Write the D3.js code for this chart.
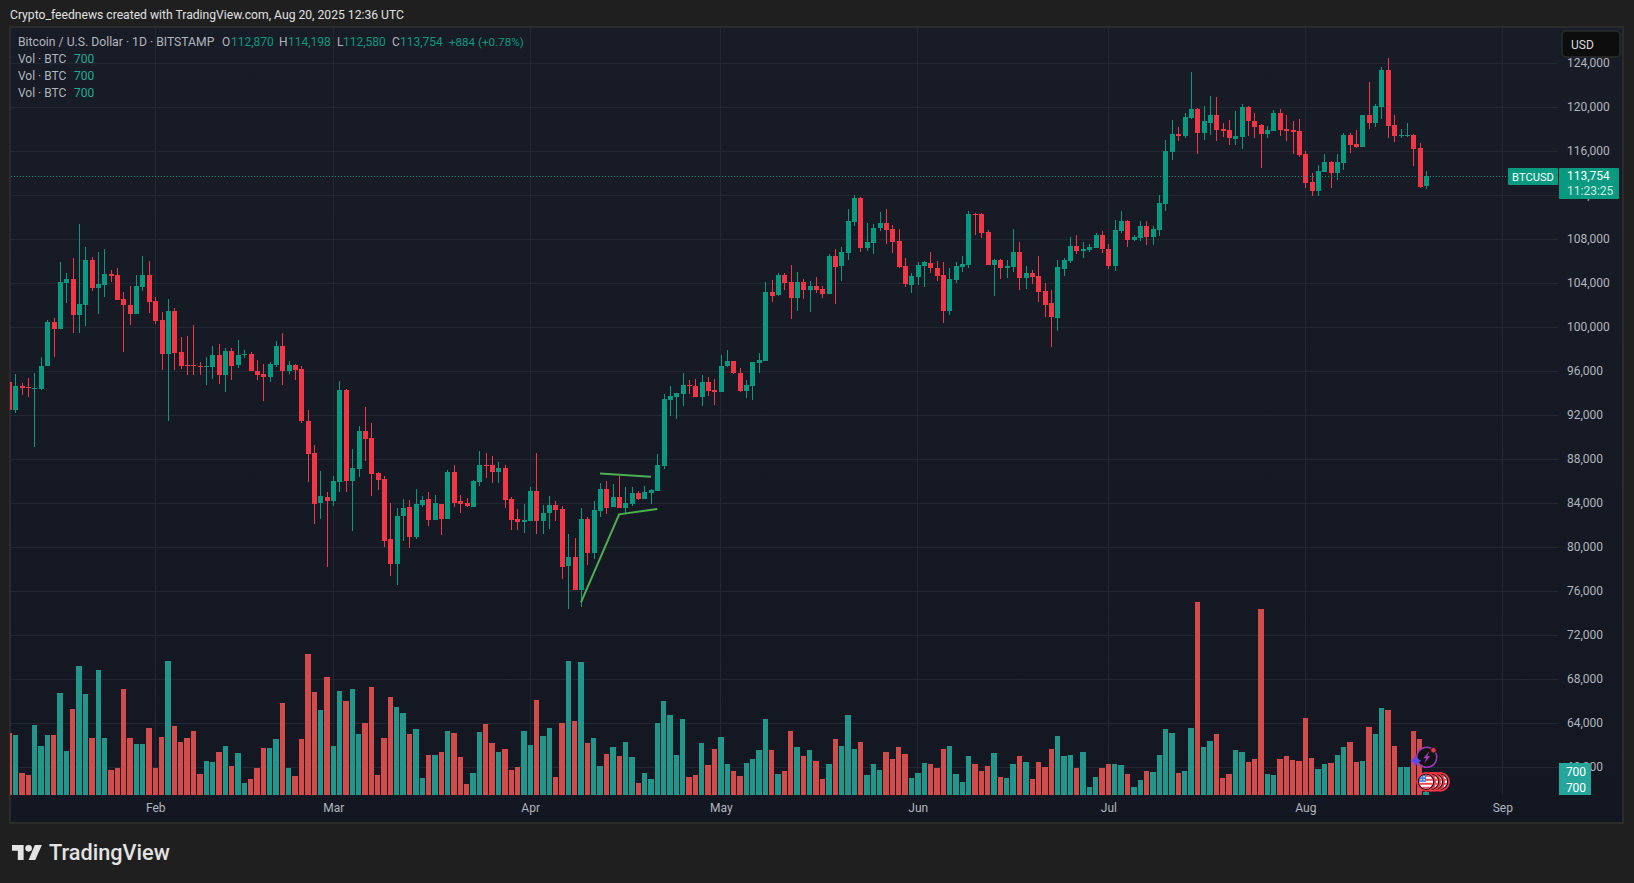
<!DOCTYPE html>
<html>

<head>
    <meta charset="utf-8">
    <title>BTCUSD 1D</title>
    <script src="https://d3js.org/d3.v7.min.js"></script>
    <style>
        html,
        body {
            margin: 0;
            background: #1f1f1f;
            overflow: hidden;
        }

        svg {
            display: block;
        }

        text {
            font-family: Roboto, sans-serif;
            font-size: 12px;
        }
    </style>
</head>

<body>
    <div id="chart"></div>
    <script>
        const startDate = new Date(Date.UTC(2025, 0, 9))

        const opens = [
            95030, 92490, 94670, 94580, 94400, 94400, 96490, 100480, 99850, 104030,
            104390, 101120, 102030, 106120, 103580, 103850, 104850, 104760, 102580, 102030,
            101210, 103670, 104760, 102390, 100670, 97580, 101480, 97760, 96580, 96580,
            96490, 96400, 96400, 97490, 95670, 97850, 96580, 97490, 97580, 96030,
            95760, 95490, 96580, 98300, 96030, 96580, 96210, 91480, 88580, 84030,
            84580, 84210, 85940, 94300, 86030, 87120, 90580, 89940, 86760, 86210,
            80760, 78490, 82850, 83670, 80940, 83850, 84390, 82490, 83940, 82580,
            86850, 84210, 84030, 83670, 85940, 87490, 87490, 86850, 87210, 84390,
            82580, 82300, 82400, 85120, 82400, 83120, 83850, 83490, 78300, 79120,
            76120, 82580, 79490, 83300, 85300, 83670, 84580, 83580, 83940, 84940,
            84390, 84940, 85120, 87400, 93400, 93670, 93940, 94760, 94670, 93670,
            95030, 94300, 94120, 96490, 96940, 95850, 94210, 94670, 96760, 96940,
            103210, 102940, 104760, 104120, 102670, 104120, 103400, 103760, 103490, 103030,
            106490, 105580, 106760, 109580, 111760, 107210, 107670, 109030, 109490, 108940,
            107850, 105580, 103850, 104580, 105580, 105850, 105390, 104760, 101490, 104300,
            105490, 105670, 110300, 110300, 108670, 105670, 106120, 105390, 105490, 106850,
            104490, 104940, 104670, 103300, 102210, 100850, 105300, 106030, 107390, 106940,
            107030, 107210, 108400, 107120, 105580, 108760, 109670, 107940, 108120, 109210,
            108210, 108850, 111210, 115940, 117580, 117390, 119030, 119850, 117670, 118580,
            119300, 118030, 117940, 117120, 117300, 120030, 118760, 118400, 117580, 117850,
            119490, 118030, 117940, 117850, 115760, 113210, 112400, 114120, 115030, 114030,
            114940, 117490, 116670, 116400, 119300, 118580, 120030, 123390, 118400, 117390,
            117390, 117490, 116300, 112870
        ]
        const highs = [
            95100, 95760, 94940, 95400, 95850, 97300, 100670, 100850, 105940, 104940,
            106300, 109390, 107300, 106390, 106850, 107120, 105210, 105390, 103210, 103760,
            104760, 106490, 106030, 102730, 101390, 102580, 101760, 99120, 99210, 100210,
            96850, 97300, 98300, 98490, 98120, 98120, 98850, 97940, 97760, 97030,
            96670, 96850, 98760, 99490, 96940, 96670, 96490, 92490, 89300, 86940,
            85030, 86490, 95120, 94400, 88940, 91030, 92760, 91300, 86850, 86490,
            84030, 83580, 84390, 84300, 85300, 84670, 85030, 84760, 83940, 87030,
            87490, 84760, 84490, 86120, 88760, 88580, 88300, 87760, 87490, 84580,
            83490, 83940, 85490, 88580, 83850, 84670, 84210, 83760, 81210, 80850,
            83580, 82760, 84210, 85850, 86030, 85760, 86490, 85490, 85490, 85120,
            85580, 85300, 88490, 93940, 94670, 94030, 95850, 95210, 95300, 95670,
            95490, 95300, 97490, 97940, 96940, 96300, 95210, 96850, 97670, 104120,
            104300, 104940, 104940, 105670, 105030, 104390, 104210, 104580, 103760, 106670,
            107120, 107300, 110760, 112030, 111850, 109490, 109390, 110490, 110760, 109300,
            108940, 106300, 104940, 105940, 106030, 106850, 106030, 105940, 105390, 105940,
            106490, 110580, 110390, 110390, 108850, 106210, 106210, 106120, 108940, 107760,
            105580, 105210, 106490, 104030, 103390, 106120, 106300, 108210, 108390, 107760,
            107580, 108580, 108760, 107580, 109760, 110580, 109760, 108400, 109670, 109670,
            109210, 112030, 117030, 118850, 118210, 119490, 123210, 119940, 120120, 121030,
            120940, 118580, 118850, 119670, 120300, 120120, 119490, 118490, 118300, 119760,
            119850, 119300, 118760, 118940, 116030, 114030, 114760, 115760, 115120, 115760,
            117670, 117670, 117940, 119300, 122300, 120300, 123670, 124490, 119300, 118030,
            118580, 117580, 116760, 114198
        ]
        const lows = [
            92300, 92210, 93850, 93670, 89120, 94300, 96490, 97300, 99850, 102210,
            99490, 99490, 100120, 103300, 101210, 102760, 104120, 102490, 97760, 100210,
            101210, 103300, 101300, 100300, 96120, 91480, 96120, 96210, 95670, 95670,
            95670, 94760, 95300, 94850, 94120, 95210, 96300, 97210, 96030, 95210,
            93300, 95030, 96400, 94760, 95760, 95210, 91300, 85940, 82120, 82580,
            78210, 83760, 85030, 85030, 81490, 86400, 87850, 84670, 85210, 80030,
            77400, 76580, 80580, 79940, 80760, 83670, 81940, 82490, 81120, 82580,
            83670, 83120, 83670, 83670, 85580, 86300, 85850, 85850, 83580, 81580,
            81580, 81300, 82400, 81210, 81210, 81670, 82400, 77120, 74400, 76120,
            74580, 78400, 78940, 82760, 83030, 83670, 83580, 83120, 83760, 84300,
            84390, 83940, 85120, 87120, 91940, 91670, 92850, 93940, 93670, 92850,
            93760, 92940, 94120, 96400, 95760, 94120, 93580, 93390, 95850, 96940,
            102300, 102850, 103400, 100760, 101490, 102580, 101400, 103120, 102670, 103030,
            102120, 104210, 106120, 109210, 106850, 106940, 106670, 108760, 107580, 106760,
            105390, 103670, 103120, 103850, 103670, 104940, 104210, 100400, 101120, 104030,
            105030, 105390, 108390, 108120, 105670, 102850, 104390, 104490, 105030, 103400,
            103490, 103940, 102300, 100940, 98210, 99670, 104670, 105850, 106670, 106300,
            106850, 107210, 106760, 105300, 105120, 108580, 107300, 107850, 107850, 107490,
            107490, 108300, 110580, 115210, 116940, 117210, 118940, 115760, 117030, 117490,
            116940, 117300, 116580, 116580, 116210, 117390, 117210, 114490, 117210, 117850,
            117390, 116940, 115760, 115490, 112670, 111940, 111940, 114120, 112670, 113400,
            114300, 115850, 116300, 116400, 118030, 118210, 118940, 117210, 116850, 117210,
            117300, 114670, 112670, 112580
        ]
        const closes = [
            92490, 94670, 94490, 94490, 94490, 96490, 100480, 99850, 104120, 104390,
            101120, 102120, 106120, 103580, 103940, 104850, 104670, 102490, 102030, 101210,
            103760, 104760, 102300, 100580, 97580, 101480, 97670, 96490, 96490, 96490,
            96400, 96490, 97490, 95670, 97850, 96490, 97490, 97580, 96030, 95670,
            95490, 96670, 98300, 96030, 96580, 96120, 91480, 88490, 83940, 84670,
            84210, 86030, 94300, 86030, 87210, 90580, 89850, 86670, 86120, 80580,
            78490, 82850, 83580, 80940, 83940, 84300, 82490, 84030, 82580, 86850,
            84030, 83940, 83760, 86030, 87490, 87400, 86850, 87210, 84300, 82490,
            82300, 82490, 85120, 82400, 83120, 83850, 83400, 78210, 79120, 76120,
            82580, 79490, 83400, 85300, 83580, 84580, 83580, 84030, 84940, 84390,
            85030, 85210, 87490, 93490, 93760, 94030, 94760, 94670, 93670, 95030,
            94210, 94120, 96490, 96940, 95850, 94210, 94760, 96850, 97030, 103210,
            102850, 104760, 104030, 102670, 104120, 103400, 103760, 103400, 103030, 106490,
            105490, 106850, 109670, 111760, 107210, 107760, 109030, 109490, 108850, 107760,
            105490, 103940, 104670, 105670, 105940, 105390, 104670, 101490, 104390, 105580,
            105760, 110300, 110210, 108580, 105670, 106120, 105390, 105580, 106850, 104490,
            104940, 104580, 103210, 102030, 100940, 105490, 106120, 107390, 106940, 107120,
            107300, 108390, 107120, 105580, 108850, 109670, 107940, 108210, 109210, 108210,
            108940, 111300, 116030, 117580, 117390, 119120, 119850, 117670, 118760, 119300,
            117940, 117850, 117210, 117390, 120030, 118760, 118210, 117580, 117940, 119490,
            117940, 117850, 117760, 115670, 113120, 112400, 114210, 115030, 114030, 115030,
            117490, 116580, 116400, 119300, 118580, 120120, 123390, 118300, 117390, 117490,
            117490, 116210, 112760, 113754
        ]
        const volumes = [
            186, 180, 66, 60, 210, 147, 180, 180, 306, 132,
            258, 387, 303, 171, 375, 171, 75, 81, 318, 171,
            153, 153, 201, 81, 174, 402, 207, 159, 171, 192,
            63, 102, 99, 129, 147, 87, 126, 36, 48, 81,
            141, 141, 168, 276, 81, 57, 168, 423, 309, 255,
            354, 147, 312, 282, 318, 183, 216, 324, 60, 171,
            294, 264, 246, 183, 198, 51, 120, 120, 129, 192,
            186, 114, 33, 66, 189, 213, 156, 129, 138, 75,
            84, 192, 150, 285, 177, 201, 54, 216, 402, 222,
            399, 156, 171, 87, 123, 144, 117, 159, 114, 36,
            66, 48, 216, 282, 240, 120, 228, 54, 60, 156,
            90, 138, 174, 93, 72, 57, 96, 108, 135, 228,
            135, 63, 72, 192, 144, 117, 135, 102, 48, 93,
            168, 147, 240, 138, 159, 60, 93, 75, 129, 108,
            144, 123, 51, 66, 96, 93, 81, 138, 147, 63,
            39, 117, 93, 72, 87, 126, 54, 51, 93, 117,
            99, 48, 99, 84, 138, 177, 117, 120, 81, 129,
            24, 54, 81, 93, 93, 90, 63, 24, 45, 72,
            69, 120, 198, 186, 66, 72, 201, 578, 144, 162,
            183, 51, 63, 135, 129, 99, 108, 559, 63, 60,
            108, 117, 105, 102, 231, 111, 78, 93, 96, 120,
            144, 159, 99, 102, 204, 183, 261, 255, 147, 84,
            84, 192, 168, 9
        ]

        const priceTicks = [60000, 64000, 68000, 72000, 76000, 80000, 84000, 88000, 92000, 96000, 100000, 104000, 108000, 112000, 116000, 120000, 124000]
        const monthTicks = [1, 2, 3, 4, 5, 6, 7, 8].map(m => new Date(Date.UTC(2025, m, 1)))

        const triangleDates = ["2025-04-09", "2025-04-15", "2025-04-21"]
        const trianglePrices = [75000, 83000, 83480]
        const topLineDates = ["2025-04-12", "2025-04-20"]
        const topLinePrices = [86700, 86420]

        const lastPrice = 113754
        const legendOhlc = [["O", "112,870"], ["H", "114,198"], ["L", "112,580"], ["C", "113,754"]]
        const volumeRows = ["Vol · BTC", "Vol · BTC", "Vol · BTC"]

        const W = 1634, H = 883
        const pane = { left: 11, right: 1558, top: 28, bottom: 795, edge: 1622 }

        const green = "#089981", red = "#f23645", volGreen = "#22968a", volRed = "#d34c4c"
        const gridColor = "#232732", labelColor = "#b2b5be"

        const dates = opens.map((d, i) => d3.utcDay.offset(startDate, i))

        const x = d3.scaleUtc()
            .domain([new Date(Date.UTC(2025, 1, 1)), new Date(Date.UTC(2025, 8, 1))])
            .range([155.3, 1502.3])
        const y = d3.scaleLinear().domain([60000, 124000]).range([767.3, 63.3])
        const yVol = d3.scaleLinear().domain([0, 600]).range([pane.bottom, pane.bottom - 200])

        const candleX = i => Math.round(x(dates[i]) - 0.1)
        const volLeft = i => Math.floor(x(d3.utcDay.offset(startDate, i)) - 0.1) - 2

        const svg = d3.select("#chart").append("svg").attr("width", W).attr("height", H)
        const defs = svg.append("defs")

        const grad = defs.append("linearGradient").attr("id", "paneBg").attr("x1", 0).attr("x2", 0).attr("y1", 0).attr("y2", 1)
        grad.append("stop").attr("offset", "0%").attr("stop-color", "#181c27")
        grad.append("stop").attr("offset", "100%").attr("stop-color", "#131722")

        defs.append("clipPath").attr("id", "plotClip").append("rect")
            .attr("x", 10).attr("y", pane.top)
            .attr("width", pane.right - 10).attr("height", pane.bottom - pane.top)

        svg.append("rect")
            .attr("x", 10).attr("y", 27).attr("width", 1613).attr("height", 796)
            .attr("fill", "url(#paneBg)").attr("stroke", "#2b2b2b").attr("stroke-width", 2)

        // grid
        svg.append("g").selectAll("line").data(priceTicks).join("line")
            .attr("x1", pane.left).attr("x2", pane.right)
            .attr("y1", d => Math.floor(y(d)) + 0.5).attr("y2", d => Math.floor(y(d)) + 0.5)
            .attr("stroke", gridColor)
        svg.append("g").selectAll("line").data(monthTicks).join("line")
            .attr("x1", d => Math.floor(x(d)) + 0.5).attr("x2", d => Math.floor(x(d)) + 0.5)
            .attr("y1", pane.top).attr("y2", pane.bottom)
            .attr("stroke", gridColor)

        const plot = svg.append("g").attr("clip-path", "url(#plotClip)")

        // volume
        plot.append("g").attr("shape-rendering", "crispEdges")
            .selectAll("rect").data(volumes).join("rect")
            .attr("x", (d, i) => volLeft(i))
            .attr("width", (d, i) => volLeft(i + 1) - volLeft(i) - 1)
            .attr("y", d => yVol(d))
            .attr("height", d => yVol(0) - yVol(d))
            .attr("fill", (d, i) => closes[i] >= opens[i] ? volGreen : volRed)

        // candles
        const candles = plot.append("g").attr("shape-rendering", "crispEdges")
            .selectAll("g").data(dates).join("g")
            .attr("fill", (d, i) => closes[i] >= opens[i] ? green : red)
        candles.append("rect")
            .attr("x", (d, i) => candleX(i))
            .attr("width", 1)
            .attr("y", (d, i) => Math.round(y(highs[i])))
            .attr("height", (d, i) => Math.max(1, Math.round(y(lows[i])) - Math.round(y(highs[i]))))
        candles.append("rect")
            .attr("x", (d, i) => candleX(i) - 2)
            .attr("width", 5)
            .attr("y", (d, i) => Math.round(y(Math.max(opens[i], closes[i]))))
            .attr("height", (d, i) => Math.max(1, Math.round(y(Math.min(opens[i], closes[i]))) - Math.round(y(Math.max(opens[i], closes[i])))))

        // last price line
        svg.append("line")
            .attr("x1", pane.left).attr("x2", 1508)
            .attr("y1", Math.floor(y(lastPrice)) + 0.5).attr("y2", Math.floor(y(lastPrice)) + 0.5)
            .attr("stroke", green).attr("stroke-dasharray", "1,2")

        // hand drawn lines
        const parseDay = d3.utcParse("%Y-%m-%d")
        const drawLine = d3.line().x(d => x(parseDay(d[0]))).y(d => y(d[1]))
        svg.append("path").datum(d3.zip(topLineDates, topLinePrices)).attr("d", drawLine)
            .attr("fill", "none").attr("stroke", "#4caf50").attr("stroke-width", 2)
        svg.append("path").datum(d3.zip(triangleDates, trianglePrices)).attr("d", drawLine)
            .attr("fill", "none").attr("stroke", "#4caf50").attr("stroke-width", 2)

        // event markers on the last bar
        const lastX = x(dates[dates.length - 1])
        const flags = [14, 9, 5, 0]
        defs.append("clipPath").attr("id", "flagClip").append("circle").attr("r", 7)
        flags.forEach((off, n) => {
            const f = svg.append("g").attr("transform", `translate(${lastX + off},781.8)`)
            f.append("circle").attr("r", 9).attr("fill", "#111").attr("stroke", red).attr("stroke-width", 1.7)
            const inner = f.append("g").attr("clip-path", "url(#flagClip)")
            inner.append("rect").attr("x", -8).attr("y", -8).attr("width", 16).attr("height", 16).attr("fill", "#fff")
            inner.selectAll(".s").data([-6, -2, 2, 6]).join("rect")
                .attr("x", -8).attr("y", d => d - 1).attr("width", 16).attr("height", 2).attr("fill", "#f0475a")
            if (off === 0) {
                inner.append("rect").attr("x", -8).attr("y", -8).attr("width", 8).attr("height", 8).attr("fill", "#3f7fe0")
                inner.selectAll(".d").data([[-5, -5], [-2, -5], [-5, -2], [-2, -2]]).join("circle")
                    .attr("cx", d => d[0]).attr("cy", d => d[1]).attr("r", 0.7).attr("fill", "#fff")
            }
        })

        const bolt = svg.append("g").attr("transform", `translate(${lastX + 0.7},757.3)`)
        bolt.append("circle").attr("r", 10).attr("fill", "#131316").attr("stroke", "#9b37b8").attr("stroke-width", 1.5)
        bolt.append("path").attr("d", "M2.5,-6 L-3.5,1 L-0.5,1 L-2.5,6 L3.5,-1 L0.5,-1 Z").attr("fill", "#a53dc6")
        bolt.append("circle").attr("cx", 6.7).attr("cy", -7).attr("r", 2.8).attr("fill", red).attr("stroke", "#131316")
        bolt.append("path").attr("d", "M-11,-2 L-9,1.5 L-5.5,3.5 L-9,5.5 L-11,9 L-13,5.5 L-16.5,3.5 L-13,1.5 Z").attr("fill", "#5f48f0")

        // axes
        const yAxis = d3.axisRight(y).tickValues(priceTicks).tickSize(0).tickPadding(0).tickFormat(d3.format(","))
        const gy = svg.append("g").attr("transform", "translate(1567,-1)").call(yAxis)
        gy.select(".domain").remove()
        gy.selectAll("text").attr("fill", labelColor).style("font-size", "12px").style("font-family", null)

        const xAxis = d3.axisBottom(x).tickValues(monthTicks).tickSize(0).tickPadding(8).tickFormat(d3.utcFormat("%b"))
        const gx = svg.append("g").attr("transform", `translate(0,${pane.bottom})`).call(xAxis)
        gx.select(".domain").remove()
        gx.selectAll("text").attr("fill", labelColor).style("font-size", "12px").style("font-family", null)

        // price scale badges
        svg.append("rect").attr("x", 1559).attr("y", 763).attr("width", 32).attr("height", 32).attr("fill", "#26a69a")
        svg.selectAll(".volBadge").data([775.5, 792]).join("text")
            .attr("x", 1576).attr("y", d => d).attr("text-anchor", "middle").attr("fill", "#fff").text("700")

        svg.append("rect").attr("x", 1508).attr("y", 168).attr("width", 50).attr("height", 17).attr("rx", 1).attr("fill", green)
        svg.append("text").attr("x", 1533).attr("y", 181).attr("text-anchor", "middle").attr("fill", "#fff")
            .style("font-size", "11.2px").text("BTCUSD")
        svg.append("rect").attr("x", 1559).attr("y", 168).attr("width", 60).attr("height", 31).attr("rx", 1).attr("fill", green)
        svg.append("text").attr("x", 1567).attr("y", 180).attr("fill", "#fff").text(d3.format(",")(lastPrice))
        svg.append("text").attr("x", 1567).attr("y", 194.5).attr("fill", "#cfeae4").text("11:23:25")

        svg.append("rect").attr("x", 1562).attr("y", 31).attr("width", 58).attr("height", 26).attr("rx", 4)
            .attr("fill", "#0d0d0d").attr("stroke", "#2c2c2c").attr("stroke-width", 1.5)
        svg.append("text").attr("x", 1571).attr("y", 49).attr("fill", "#dbdbdb").text("USD")

        // legend
        svg.append("text").attr("x", 18).attr("y", 46).attr("fill", labelColor).style("font-size", "12.2px")
            .text("Bitcoin / U.S. Dollar · 1D · BITSTAMP")
        const legendX = [222, 279, 337, 392]
        const legendValX = [231, 288, 343, 400]
        legendOhlc.forEach((d, i) => {
            svg.append("text").attr("x", legendX[i]).attr("y", 46).attr("fill", labelColor).text(d[0])
            svg.append("text").attr("x", legendValX[i]).attr("y", 46).attr("fill", green).text(d[1])
        })
        svg.append("text").attr("x", 449).attr("y", 46).attr("fill", green).style("font-size", "11.6px").text("+884 (+0.78%)")
        volumeRows.forEach((d, i) => {
            svg.append("text").attr("x", 18).attr("y", 63 + i * 17).attr("fill", labelColor).text(d)
            svg.append("text").attr("x", 74).attr("y", 63 + i * 17).attr("fill", "#22ab94").text("700")
        })

        // header and footer
        svg.append("text").attr("x", 10).attr("y", 19).attr("fill", "#e0e0e0").style("font-size", "12.15px")
            .text("Crypto_feednews created with TradingView.com, Aug 20, 2025 12:36 UTC")

        const logo = svg.append("g").attr("transform", "translate(12,845) scale(0.83)").attr("fill", "#e3e3e3")
        logo.append("path").attr("d", "M14 18H7V7H0V0h14v18z")
        logo.append("circle").attr("cx", 20).attr("cy", 4).attr("r", 4)
        logo.append("path").attr("d", "M28 18h-8l7.5-18H36l-8 18z")
        svg.append("text").attr("x", 49).attr("y", 860).attr("fill", "#e3e3e3")
            .style("font-size", "21.7px").style("font-weight", 500).text("TradingView")
    </script>
</body>

</html>
